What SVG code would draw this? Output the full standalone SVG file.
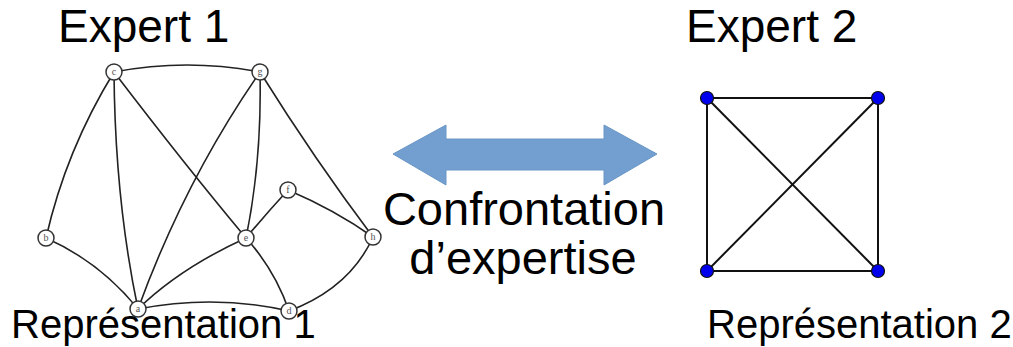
<svg xmlns="http://www.w3.org/2000/svg" width="1013" height="347" viewBox="0 0 1013 347">
<style>
.t{font-family:"Liberation Sans",Arial,sans-serif;fill:#000}
.big{font-size:46px}
.conf{font-size:47px}
.rep{font-size:40px}
.g1 path{fill:none;stroke:#222;stroke-width:1.6}
.n1 circle{fill:#fff;stroke:#333;stroke-width:1.5}
.n1 text{font-family:"Liberation Serif","Times New Roman",serif;font-size:10px;fill:#555;text-anchor:middle}
.g2 line{stroke:#111;stroke-width:2}
.n2{fill:#0000ee;stroke:#111;stroke-width:1.2}
</style>
<rect width="1013" height="347" fill="#fff"/>
<text class="t big" x="58" y="42">Expert 1</text>
<text class="t big" x="686" y="42">Expert 2</text>

<g id="connectors" class="g1">
<path d="M114,72 Q187,58 260,72"/>
<path d="M114,72 Q66,150 46,238"/>
<path d="M114,72 Q115,200 138,309"/>
<path d="M114,72 Q185,165 246,238"/>
<path d="M260,72 Q185,180 138,309"/>
<path d="M260,72 Q262,160 246,238"/>
<path d="M260,72 Q315,160 373,237"/>
<path d="M288,190 Q265,215 246,238"/>
<path d="M288,190 Q335,210 373,237"/>
<path d="M46,238 Q100,262 138,309"/>
<path d="M246,238 Q180,268 138,309"/>
<path d="M246,238 Q275,270 289,311"/>
<path d="M138,309 Q215,294 289,311"/>
<path d="M289,311 Q350,288 373,237"/>
</g>
<g id="node-c" class="n1"><circle cx="114" cy="72" r="8"/><text x="114" y="75">c</text></g>
<g id="node-g" class="n1"><circle cx="260" cy="72" r="8"/><text x="260" y="75">g</text></g>
<g id="node-f" class="n1"><circle cx="288" cy="190" r="8"/><text x="288" y="193">f</text></g>
<g id="node-b" class="n1"><circle cx="46" cy="238" r="8"/><text x="46" y="241">b</text></g>
<g id="node-e" class="n1"><circle cx="246" cy="238" r="8"/><text x="246" y="241">e</text></g>
<g id="node-h" class="n1"><circle cx="373" cy="237" r="8"/><text x="373" y="240">h</text></g>
<g id="node-a" class="n1"><circle cx="138" cy="309" r="8"/><text x="138" y="312">a</text></g>
<g id="node-d" class="n1"><circle cx="289" cy="311" r="8"/><text x="289" y="314">d</text></g>

<g id="arrow"><polygon points="393,154 446,125 446,139 604,139 604,125 657,154 604,185 604,170 446,170 446,185" fill="#729fcf" stroke="#6a96c6" stroke-width="1"/></g>
<text class="t conf" x="524" y="225" text-anchor="middle">Confrontation</text>
<text class="t conf" x="523" y="274" text-anchor="middle">d’expertise</text>

<g id="connectors2" class="g2">
<line x1="707" y1="98" x2="878" y2="98"/>
<line x1="707" y1="98" x2="707" y2="271"/>
<line x1="878" y1="98" x2="878" y2="271"/>
<line x1="707" y1="271" x2="878" y2="271"/>
<line x1="707" y1="98" x2="878" y2="271"/>
<line x1="878" y1="98" x2="707" y2="271"/>
</g>
<g id="node-tl"><circle class="n2" cx="707" cy="98" r="6.5"/></g>
<g id="node-tr"><circle class="n2" cx="878" cy="98" r="6.5"/></g>
<g id="node-bl"><circle class="n2" cx="707" cy="271" r="6.5"/></g>
<g id="node-br"><circle class="n2" cx="878" cy="271" r="6.5"/></g>

<text class="t rep" x="11" y="338">Représentation 1</text>
<text class="t rep" x="707" y="338">Représentation 2</text>
</svg>
